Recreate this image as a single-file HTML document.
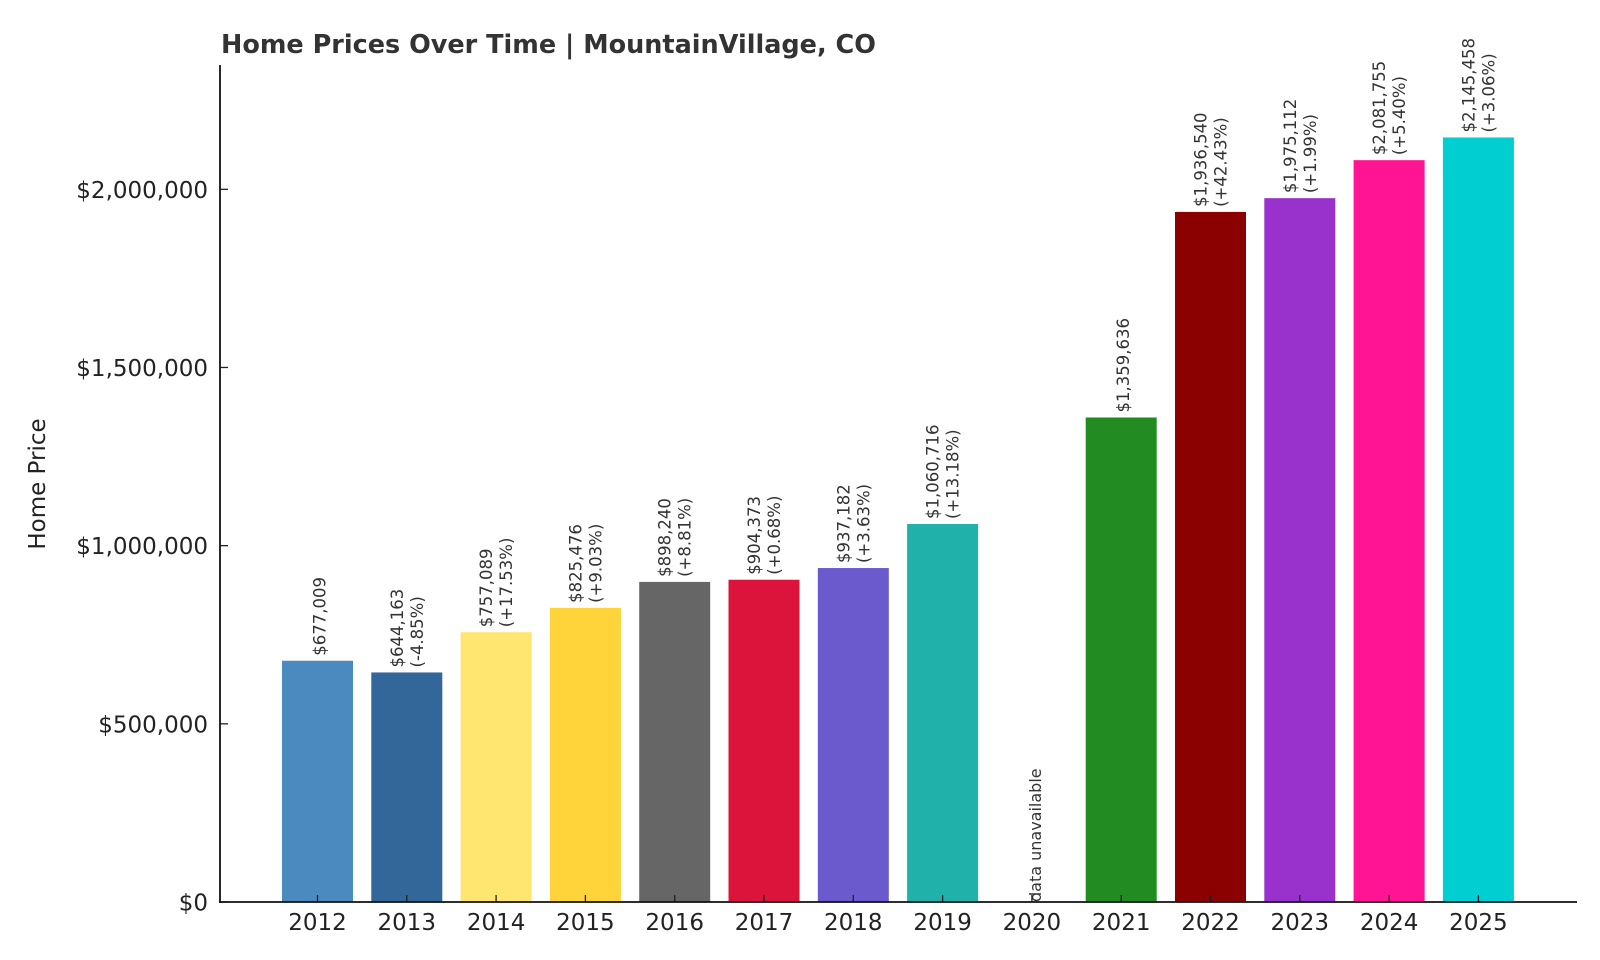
<!DOCTYPE html>
<html><head><meta charset="utf-8"><style>
body{margin:0;background:#fff}
svg{display:block;font-family:"DejaVu Sans","Liberation Sans",sans-serif}
</style></head><body>
<svg id="chart" width="1600" height="960" viewBox="0 0 1600 960">
<text x="221" y="53" font-size="25.5" font-weight="bold" fill="#333">Home Prices Over Time | MountainVillage, CO</text>
<text transform="translate(45,484) rotate(-90)" text-anchor="middle" font-size="23" fill="#222">Home Price</text>
<g id="plot"></g>
</svg>
<script>
const years=["2012","2013","2014","2015","2016","2017","2018","2019","2020","2021","2022","2023","2024","2025"];
const prices=[677009,644163,757089,825476,898240,904373,937182,1060716,null,1359636,1936540,1975112,2081755,2145458];
const changes=[null,"-4.85%","+17.53%","+9.03%","+8.81%","+0.68%","+3.63%","+13.18%",null,null,"+42.43%","+1.99%","+5.40%","+3.06%"];
const colors=["#4a8abe","#336699","#ffe670","#ffd43b","#666666","#dc143c","#6a5acd","#20b2aa","#000","#228b22","#8b0000","#9932cc","#ff1493","#00ced1"];
const yTicks=[0,500000,1000000,1500000,2000000];
const yTickLabels=["$0","$500,000","$1,000,000","$1,500,000","$2,000,000"];
const NS="http://www.w3.org/2000/svg";
const g=document.getElementById("plot");
const y0=902,pxPer=712.7/2000000;
function yS(v){return y0-v*pxPer;}
function xS(i){return 317.5+i*89.3;}
function mk(t,a,txt){const e=document.createElementNS(NS,t);for(const k in a)e.setAttribute(k,a[k]);if(txt!=null)e.textContent=txt;g.appendChild(e);return e;}
function fmt(v){return "$"+v.toLocaleString("en-US");}
years.forEach((yr,i)=>{
 const cx=xS(i);
 const v=prices[i];
 let t;
 if(v==null){
  t=mk("text",{transform:`translate(${cx+9},${y0}) rotate(-90)`,"font-size":16,fill:"#333"},"data unavailable");
  
  
 }else{
  const top=yS(v);
  const b=mk("rect",{x:cx-35.5,y:top,width:71,height:y0-top,fill:colors[i]});
  
  
  const ch=changes[i];
  if(ch){
   t=mk("text",{transform:`translate(${cx-4},${top-5}) rotate(-90)`,"font-size":16.5,fill:"#333"},fmt(v));
   
   
   t=mk("text",{transform:`translate(${cx+16},${top-5}) rotate(-90)`,"font-size":16.5,fill:"#333"},"("+ch+")");
   
   
  }else{
   t=mk("text",{transform:`translate(${cx+8},${top-5}) rotate(-90)`,"font-size":16.5,fill:"#333"},fmt(v));
   
   
  }
 }
 t=mk("line",{x1:cx,y1:y0,x2:cx,y2:y0-7,stroke:"#222","stroke-width":1.3});
 
 
 t=mk("text",{x:cx,y:930,"text-anchor":"middle","font-size":23,fill:"#222"},yr);
 
 
});
yTicks.forEach((v,i)=>{
 const y=yS(v);
 let t=mk("line",{x1:220,y1:y,x2:228,y2:y,stroke:"#222","stroke-width":1.3});
 
 
 t=mk("text",{x:208,y:y+8.5,"text-anchor":"end","font-size":23,fill:"#222"},yTickLabels[i]);
 
 
});
let e=mk("line",{x1:220,y1:65,x2:220,y2:903,stroke:"#111","stroke-width":1.8});


e=mk("line",{x1:219,y1:902,x2:1577,y2:902,stroke:"#111","stroke-width":1.8});


</script>
</body></html>
